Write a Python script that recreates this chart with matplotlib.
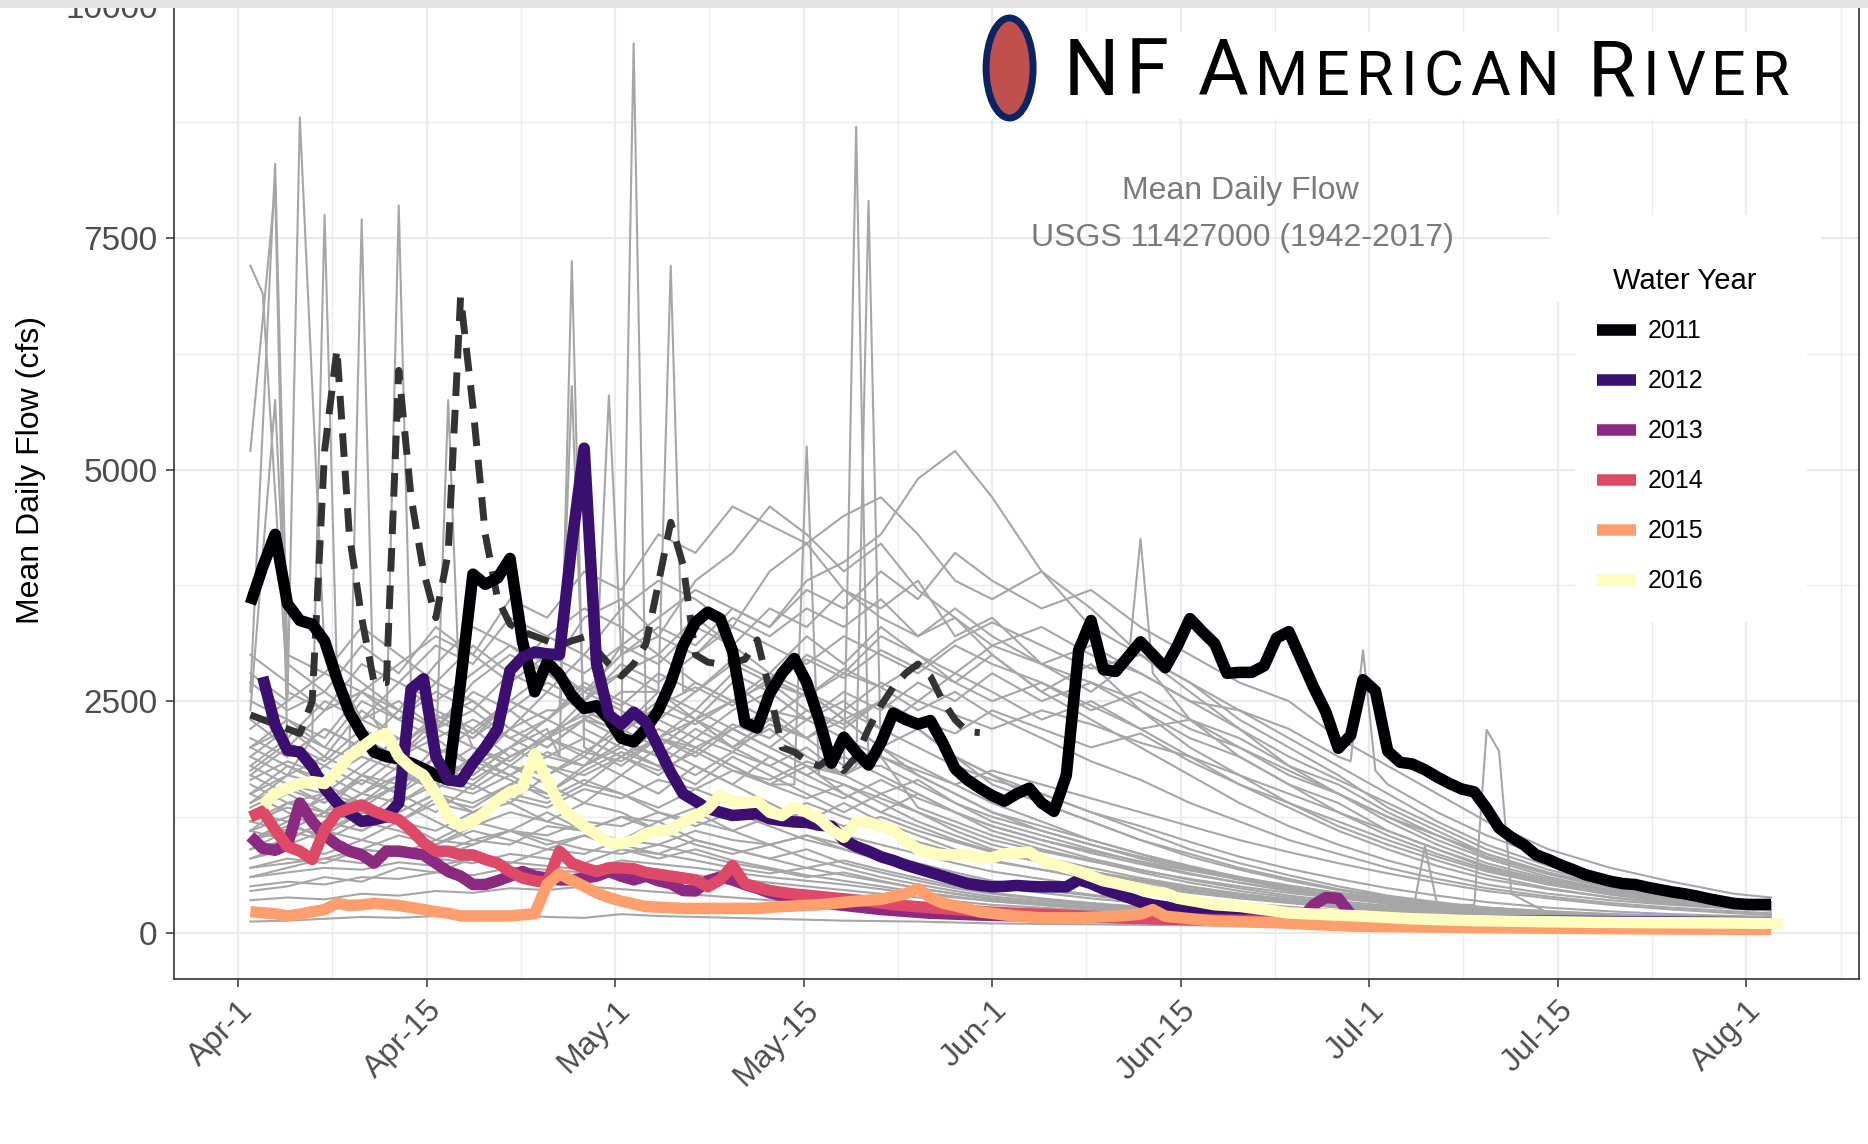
import matplotlib.pyplot as plt
import matplotlib.transforms as mtransforms
from matplotlib import font_manager
from matplotlib.patches import Ellipse, Rectangle
from matplotlib.ticker import FixedLocator

plt.rcParams['font.family'] = ['Liberation Sans', 'DejaVu Sans']

# x is days after Apr-1; date breaks are spread evenly from Apr-1 to Aug-1
TICK_DAYS = [0, 15.25, 30.5, 45.75, 61, 76.25, 91.5, 106.75, 122]
TICK_LABELS = ['Apr-1', 'Apr-15', 'May-1', 'May-15', 'Jun-1', 'Jun-15', 'Jul-1', 'Jul-15', 'Aug-1']
Y_TICKS = [0, 2500, 5000, 7500, 10000]

YEARS = ['2011', '2012', '2013', '2014', '2015', '2016']
YEAR_COLORS = ['#000004', '#3B0F70', '#8C2981', '#DE4968', '#FE9F6D', '#FCFDBF']

DAYS_2011 = list(range(1, 125))
FLOW_2011 = [3550, 3950, 4300, 3550, 3370, 3330, 3150, 2740, 2380, 2150,
             1950, 1900, 1880, 1830, 1770, 1700, 1650, 2700, 3870, 3760,
             3830, 4040, 3150, 2600, 2920, 2785, 2560, 2420, 2450, 2310,
             2100, 2060, 2200, 2400, 2700, 3100, 3350, 3460, 3390, 3040,
             2270, 2210, 2580, 2800, 2960, 2700, 2300, 1830, 2110, 1950,
             1810, 2050, 2370, 2300, 2250, 2290, 2050, 1770, 1650, 1560,
             1480, 1420, 1500, 1560, 1400, 1310, 1700, 3050, 3370, 2840,
             2820, 2980, 3140, 3000, 2860, 3100, 3390, 3250, 3120, 2800,
             2810, 2810, 2880, 3180, 3250, 2950, 2650, 2380, 1990, 2130,
             2730, 2610, 1960, 1840, 1820, 1760, 1680, 1610, 1550, 1520,
             1340, 1130, 1030, 950, 840, 790, 730, 680, 625, 590,
             555, 530, 520, 490, 465, 440, 420, 395, 365, 340,
             315, 305, 305, 305]

DAYS_2012 = list(range(2, 77)) + [78, 80, 82, 86, 90, 95, 100, 105, 110, 115, 120, 124]
FLOW_2012 = [2760, 2240, 1970, 1950, 1790, 1560, 1400, 1290, 1200, 1220,
             1250, 1400, 2630, 2740, 1900, 1650, 1630, 1830, 2000, 2200,
             2830, 2970, 3030, 3010, 3000, 4200, 5230, 2900, 2350, 2250,
             2380, 2270, 2000, 1730, 1500, 1420, 1340, 1300, 1265, 1275,
             1285, 1230, 1210, 1195, 1190, 1160, 1150, 1000, 930, 880,
             820, 780, 730, 690, 650, 610, 570, 530, 510, 495,
             500, 510, 500, 495, 495, 495, 570, 530, 470, 425,
             380, 330, 300, 280, 250,
             210, 190, 178, 165, 150, 140, 130, 125, 120, 115, 110, 105]

DAYS_2013 = list(range(1, 49)) + [50, 52, 54, 56, 58, 60, 65, 70, 75, 80, 85, 86, 87, 88, 89, 90, 91,
                                  95, 100, 110, 124]
FLOW_2013 = [1040, 910, 890, 950, 1400, 1200, 1050, 950, 880, 840,
             750, 880, 880, 860, 840, 750, 660, 610, 520, 520,
             560, 610, 660, 610, 590, 570, 570, 590, 610, 660,
             610, 570, 610, 560, 530, 455, 450, 560, 600, 570,
             520, 480, 430, 400, 370, 350, 330, 310,
             280, 250, 230, 210, 200, 190, 175, 165, 150, 140, 135, 150, 300, 380, 370, 200, 130,
             110, 100, 90, 80]

DAYS_2014 = list(range(1, 47)) + [48, 51, 53, 55, 58, 61, 65, 70, 75, 80, 90, 100, 110, 124]
FLOW_2014 = [1250, 1310, 1110, 930, 880, 790, 1110, 1290, 1340, 1380,
             1310, 1260, 1220, 1110, 970, 880, 880, 840, 840, 790,
             750, 660, 590, 560, 540, 880, 750, 700, 660, 700,
             700, 690, 650, 630, 610, 590, 570, 495, 570, 725,
             530, 490, 455, 435, 417, 405,
             378, 340, 302, 280, 250, 220, 200, 170, 150, 130, 100, 85, 70, 60]

DAYS_2015 = list(range(1, 19)) + [20, 22, 24, 25, 26, 27, 28, 29, 30, 31, 32, 33, 36, 39, 42, 44, 47,
                                  50, 52, 54, 55, 56, 57, 58, 60, 63, 65, 68, 71, 73, 74, 75, 79,
                                  84, 90, 100, 110, 124]
FLOW_2015 = [226, 215, 204, 181, 200, 226, 249, 317, 294, 300,
             317, 305, 294, 272, 250, 226, 210, 181,
             181, 181, 204, 521, 634, 566, 500, 430, 380, 340, 310, 282, 262, 262, 262, 282, 301,
             340, 360, 420, 475, 378, 320, 290, 224, 178, 160, 160, 178, 200, 249, 178, 124,
             107, 71, 55, 45, 35]

DAYS_2016 = list(range(2, 69)) + [70, 71, 73, 74, 75, 76, 79, 81, 83, 85, 88, 91, 95, 100, 105,
                                  110, 115, 120, 125]
FLOW_2016 = [1380, 1500, 1560, 1610, 1630, 1610, 1740, 1900, 2000, 2100,
             2150, 1900, 1780, 1700, 1500, 1250, 1150, 1200, 1300, 1430,
             1520, 1560, 1930, 1650, 1380, 1250, 1150, 1060, 970, 960,
             995, 1070, 1100, 1110, 1190, 1260, 1340, 1480, 1420, 1400,
             1420, 1300, 1265, 1360, 1300, 1230, 1110, 1030, 1190, 1190,
             1150, 1110, 995, 900, 860, 840, 840, 840, 800, 810,
             850, 860, 870, 780, 740, 700, 660,
             560, 533, 470, 444, 426, 373, 302, 284, 249, 213, 195, 178, 150, 130,
             120, 112, 108, 105, 100]

# current year, drawn dashed and left out of the legend
DAYS_2017 = list(range(1, 61))
FLOW_2017 = [2350, 2300, 2250, 2200, 2150, 2500, 5200, 6300, 4300, 3400,
             2700, 2700, 6070, 4700, 3900, 3400, 4100, 6860, 5680, 4300,
             3600, 3330, 3250, 3200, 3150, 3100, 3150, 3190, 3050, 2900,
             2770, 2900, 3120, 3770, 4430, 3970, 3000, 2920, 2900, 2920,
             2950, 3160, 2620, 2000, 1950, 1850, 1800, 1900, 1750, 1900,
             2200, 2450, 2650, 2800, 2900, 2770, 2500, 2300, 2170, 2160]

# the other years of record, read every few days
GRAY_DAYS = [1, 4, 7, 10, 13, 16, 19, 22, 25, 28, 31, 34, 37, 40, 43, 46, 49, 52, 55, 58,
             61, 65, 69, 73, 77, 81, 85, 89, 93, 97, 101, 106, 111, 116, 121, 124]
GRAY_FLOWS = [
    [2400, 2900, 2600, 3100, 2800, 3300, 3000, 3600, 3400, 3900, 3700, 4300, 4100, 4600, 4400, 4200, 4500, 4700, 4300, 3800,
     3600, 3900, 3300, 3000, 2700, 2300, 2000, 1700, 1350, 1100, 850, 650, 500, 400, 330, 300],
    [1800, 2100, 2500, 2300, 2700, 3100, 2900, 3400, 3200, 3000, 3500, 3800, 3600, 3300, 3900, 4200, 3700, 3500, 3800, 3200,
     3400, 2900, 2600, 2800, 2300, 1900, 1600, 1300, 1050, 850, 680, 520, 420, 340, 290, 270],
    [1500, 1700, 1600, 2000, 1900, 2300, 2100, 2500, 2800, 2600, 3000, 3300, 3100, 3500, 3300, 3700, 3500, 3900, 3600, 4100,
     3800, 3500, 3700, 3300, 3000, 2700, 2500, 2100, 1800, 1500, 1200, 900, 700, 550, 420, 380],
    [2800, 2500, 3000, 2700, 2400, 2900, 3300, 3100, 2800, 3400, 3600, 3200, 3800, 4100, 4600, 4300, 3900, 4200, 3700, 3400,
     3000, 2600, 2900, 2400, 2000, 1700, 1400, 1150, 950, 780, 620, 480, 380, 310, 260, 240],
    [2000, 2300, 2100, 2600, 2400, 2200, 2700, 3000, 2800, 2500, 3100, 3400, 3700, 3500, 3300, 3800, 4000, 4300, 4900, 5200,
     4700, 3900, 3500, 3000, 2600, 2200, 1800, 1500, 1200, 950, 750, 580, 450, 370, 310, 290],
    [2200, 2600, 2400, 2900, 2700, 2500, 2800, 3100, 2900, 2600, 2800, 3000, 2700, 2500, 2800, 2600, 2300, 2500, 2200, 1900,
     1700, 1500, 1300, 1100, 900, 750, 620, 500, 400, 330, 270, 220, 190, 170, 150, 140],
    [1600, 1900, 2200, 2000, 2400, 2200, 2600, 2400, 2100, 2500, 2800, 2600, 2300, 2700, 2400, 2100, 2300, 2000, 1800, 1600,
     1400, 1200, 1000, 850, 700, 580, 470, 380, 310, 260, 220, 190, 170, 150, 140, 130],
    [1300, 1500, 1800, 2100, 1900, 2300, 2500, 2200, 2600, 2400, 2200, 2500, 2300, 2000, 2200, 1900, 1700, 1500, 1350, 1200,
     1050, 900, 780, 650, 540, 450, 380, 320, 270, 230, 200, 180, 160, 140, 130, 120],
    [1900, 1700, 2000, 2300, 2100, 1900, 2200, 2500, 2300, 2700, 2500, 2300, 2600, 2900, 2700, 2400, 2200, 2500, 2200, 1900,
     1700, 1400, 1200, 1000, 820, 680, 560, 460, 380, 310, 260, 220, 190, 170, 150, 140],
    [1100, 1400, 1300, 1700, 1600, 2000, 1800, 2200, 2000, 2300, 2600, 2400, 2700, 2500, 2300, 2600, 2300, 2000, 2200, 1900,
     1600, 1400, 1200, 1000, 850, 700, 580, 470, 390, 320, 270, 230, 200, 180, 160, 150],
    [2500, 2300, 2000, 2200, 1900, 2100, 1800, 2000, 2300, 2100, 1900, 2200, 2000, 1800, 1600, 1800, 1500, 1300, 1150, 1000,
     880, 760, 650, 550, 460, 390, 330, 280, 240, 210, 190, 170, 160, 150, 140, 130],
    [1700, 2000, 1800, 1600, 1900, 2200, 2000, 1800, 2100, 1900, 2300, 2100, 1900, 2200, 2000, 1800, 1600, 1800, 1600, 1400,
     1250, 1100, 950, 820, 700, 600, 510, 430, 360, 300, 250, 210, 180, 160, 150, 140],
    [1400, 1600, 1500, 1800, 2100, 1900, 1700, 2000, 1800, 1600, 1900, 1700, 2000, 1800, 1600, 1400, 1600, 1400, 1200, 1050,
     900, 780, 660, 560, 470, 400, 340, 290, 250, 220, 190, 170, 150, 140, 130, 120],
    [2100, 1900, 2200, 2000, 1800, 1600, 1900, 1700, 1500, 1800, 2000, 1800, 1600, 1900, 1700, 1500, 1300, 1500, 1300, 1100,
     950, 820, 700, 590, 500, 420, 350, 300, 260, 230, 200, 180, 160, 150, 140, 130],
    [1000, 1200, 1500, 1400, 1700, 1600, 1900, 2200, 2000, 2300, 2100, 1900, 2200, 2000, 2300, 2100, 1800, 2000, 1700, 1500,
     1300, 1100, 950, 800, 680, 570, 480, 400, 340, 290, 250, 210, 190, 170, 150, 140],
    [1800, 1600, 1400, 1700, 1500, 1800, 2000, 1800, 1600, 1400, 1700, 1500, 1800, 1600, 1400, 1200, 1400, 1200, 1050, 900,
     780, 680, 580, 500, 430, 370, 320, 270, 230, 200, 180, 160, 150, 140, 130, 120],
    [1200, 1100, 1300, 1200, 1500, 1300, 1600, 1400, 1700, 1900, 1700, 2000, 1800, 1600, 1900, 1700, 1500, 1300, 1500, 1300,
     1100, 950, 800, 680, 570, 480, 400, 340, 290, 250, 220, 190, 170, 150, 140, 130],
    [1500, 1300, 1100, 1300, 1200, 1000, 1200, 1100, 1300, 1100, 1000, 1200, 1000, 900, 800, 900, 750, 650, 560, 480,
     420, 360, 310, 270, 240, 210, 190, 170, 150, 140, 130, 120, 110, 100, 100, 90],
    [1100, 1000, 1200, 1100, 1300, 1500, 1300, 1400, 1200, 1400, 1300, 1100, 1300, 1100, 950, 1050, 900, 780, 680, 590,
     500, 430, 370, 320, 280, 240, 210, 190, 170, 150, 140, 130, 120, 110, 100, 100],
    [900, 1100, 1000, 1200, 1100, 950, 1100, 1000, 900, 1050, 950, 850, 1000, 900, 800, 700, 780, 680, 590, 500,
     430, 370, 320, 280, 240, 210, 190, 170, 150, 140, 130, 120, 110, 100, 95, 90],
    [1300, 1200, 1000, 900, 1050, 950, 1150, 1300, 1200, 1100, 1250, 1100, 950, 850, 950, 800, 700, 600, 520, 450,
     390, 340, 300, 260, 230, 200, 180, 160, 150, 140, 130, 120, 110, 100, 95, 90],
    [800, 900, 850, 1000, 900, 800, 950, 1100, 1000, 900, 850, 950, 850, 750, 680, 600, 650, 560, 480, 420,
     360, 310, 270, 240, 210, 190, 170, 150, 140, 130, 120, 110, 100, 95, 90, 85],
    [1600, 1400, 1500, 1300, 1200, 1400, 1300, 1500, 1400, 1600, 1500, 1300, 1150, 1300, 1150, 1000, 900, 800, 700, 620,
     540, 460, 400, 340, 290, 250, 220, 190, 170, 150, 140, 130, 120, 110, 100, 100],
    [500, 550, 520, 600, 580, 650, 620, 700, 680, 650, 720, 680, 620, 580, 540, 500, 460, 420, 380, 340,
     300, 270, 240, 210, 190, 170, 150, 140, 130, 120, 110, 100, 95, 90, 85, 80],
    [350, 380, 360, 420, 400, 450, 430, 480, 460, 500, 470, 440, 410, 380, 350, 320, 300, 270, 250, 230,
     210, 190, 170, 150, 140, 130, 120, 110, 100, 95, 90, 85, 80, 75, 70, 70],
    [120, 130, 150, 170, 160, 180, 200, 190, 170, 160, 200, 180, 170, 160, 150, 140, 130, 125, 120, 110,
     100, 95, 90, 85, 80, 75, 70, 65, 60, 55, 55, 50, 50, 45, 45, 40],
    [700, 750, 800, 900, 850, 800, 750, 850, 800, 750, 900, 850, 780, 700, 640, 700, 620, 550, 480, 420,
     370, 320, 280, 250, 220, 190, 170, 150, 140, 130, 120, 110, 100, 95, 90, 85],
    [1000, 1100, 1300, 1200, 1400, 1600, 1500, 1700, 1900, 1800, 2100, 2000, 2300, 2500, 2300, 2600, 2400, 2700, 2500, 2800,
     2600, 2300, 2500, 2200, 1900, 1600, 1350, 1100, 900, 720, 580, 470, 380, 320, 270, 250],
    [2600, 3000, 2800, 3300, 3000, 2700, 3100, 2800, 3200, 3500, 3300, 3000, 3400, 3100, 2800, 3200, 2900, 3300, 3000, 2700,
     3000, 2600, 2300, 2000, 1700, 1400, 1150, 950, 780, 640, 520, 420, 350, 300, 260, 240],
    [2000, 2200, 1900, 2400, 2100, 2400, 2200, 1900, 2100, 2400, 2200, 2000, 2300, 2100, 1900, 1700, 1900, 1700, 1500, 1300,
     1150, 1000, 860, 740, 630, 540, 460, 390, 330, 280, 240, 200, 180, 160, 150, 140],
    [1500, 1800, 1600, 1400, 1600, 1900, 1700, 2000, 2200, 2000, 1800, 2100, 2400, 2200, 2000, 2300, 2100, 1900, 1700, 1500,
     1300, 1150, 1000, 850, 720, 600, 500, 420, 350, 300, 250, 210, 180, 160, 150, 140],
    [1200, 1400, 1300, 1500, 1800, 1700, 1600, 1900, 2100, 2300, 2200, 2600, 2400, 2800, 2600, 3000, 2800, 3200, 3000, 2800,
     3100, 3300, 3000, 2800, 2500, 2400, 2200, 1900, 1600, 1300, 1050, 800, 600, 470, 370, 330],
    [1700, 1500, 1300, 1200, 1400, 1200, 1000, 1100, 950, 1050, 900, 800, 900, 780, 700, 620, 560, 500, 440, 390,
     340, 300, 260, 230, 200, 180, 160, 150, 140, 130, 120, 110, 100, 95, 90, 85],
    [2300, 2000, 2400, 2600, 2300, 2700, 2500, 2200, 2400, 2200, 2000, 2300, 2100, 2400, 2600, 2300, 2500, 2200, 2000, 1800,
     1650, 1500, 1300, 1150, 980, 820, 690, 580, 480, 400, 330, 270, 230, 200, 180, 170],
    [600, 650, 700, 680, 760, 720, 800, 760, 720, 680, 780, 740, 700, 650, 600, 560, 520, 470, 420, 380,
     340, 300, 260, 230, 200, 180, 160, 145, 135, 125, 115, 105, 100, 95, 90, 85],
    [1900, 2200, 2000, 2500, 2300, 2600, 2400, 2800, 2600, 3000, 2800, 3200, 3000, 3400, 3200, 3500, 3300, 3600, 3200, 3400,
     3100, 2900, 2700, 2500, 2200, 2000, 1700, 1500, 1250, 1050, 850, 640, 500, 400, 330, 300],
    [1400, 1700, 1900, 1700, 2000, 2300, 2100, 2400, 2700, 2500, 2900, 2700, 3000, 3300, 3100, 2900, 3200, 3000, 2800, 3100,
     2900, 2700, 2400, 2600, 2300, 2100, 1800, 1600, 1300, 1050, 820, 630, 480, 380, 320, 290],
    [900, 1000, 1200, 1100, 1300, 1500, 1400, 1600, 1800, 1700, 1900, 2100, 2000, 2200, 2400, 2300, 2600, 2400, 2700, 2500,
     2800, 2500, 2700, 2400, 2100, 1900, 1600, 1400, 1100, 900, 700, 540, 420, 340, 290, 260],
    [1200, 1350, 1250, 1500, 1400, 1650, 1550, 1800, 1700, 1950, 1850, 2100, 1950, 2250, 2100, 2400, 2250, 2500, 2300, 2150,
     2400, 2200, 2000, 2150, 1850, 1600, 1400, 1200, 1000, 820, 660, 520, 410, 330, 280, 250],
    [2700, 2400, 2600, 2300, 2500, 2200, 2400, 2100, 2300, 2600, 2400, 2100, 2300, 2000, 1800, 2000, 1700, 1500, 1650, 1400,
     1200, 1050, 900, 760, 640, 540, 450, 380, 320, 270, 230, 200, 180, 160, 150, 140],
    [800, 950, 1100, 1000, 1200, 1100, 1300, 1450, 1350, 1550, 1450, 1650, 1550, 1750, 1650, 1850, 1700, 1900, 1750, 1600,
     1750, 1600, 1450, 1300, 1150, 1000, 870, 750, 640, 540, 450, 370, 300, 250, 210, 190],
    [1650, 1850, 1700, 1500, 1700, 1550, 1800, 1650, 1450, 1650, 1500, 1350, 1550, 1400, 1250, 1400, 1250, 1100, 980, 870,
     770, 680, 600, 520, 450, 390, 340, 290, 250, 220, 190, 170, 150, 140, 130, 120],
    [1100, 1250, 1450, 1350, 1600, 1800, 1650, 1900, 2100, 1950, 2200, 2400, 2250, 2500, 2700, 2550, 2800, 2650, 2900, 2700,
     2500, 2700, 2450, 2200, 2300, 2000, 1750, 1500, 1250, 1000, 800, 600, 460, 370, 310, 280],
    [450, 500, 600, 550, 700, 650, 800, 750, 900, 850, 1000, 950, 1100, 1000, 950, 1050, 950, 850, 750, 650,
     560, 480, 410, 350, 300, 260, 230, 200, 180, 160, 150, 140, 130, 120, 110, 105],
    [2000, 1800, 1650, 1900, 1750, 1600, 1850, 1700, 1950, 1800, 2050, 1900, 1700, 1950, 1800, 1600, 1450, 1650, 1450, 1300,
     1150, 1000, 880, 770, 670, 580, 500, 430, 370, 320, 270, 230, 200, 180, 160, 150],
    [1350, 1550, 1400, 1650, 1500, 1750, 2000, 1850, 2150, 2350, 2150, 2450, 2650, 2450, 2750, 2950, 2750, 3050, 2850, 3150,
     3350, 3100, 2850, 3000, 2700, 2400, 2100, 1800, 1500, 1200, 950, 720, 550, 430, 350, 320],
    [600, 700, 800, 750, 900, 850, 1000, 950, 1150, 1100, 1250, 1200, 1350, 1300, 1200, 1300, 1150, 1250, 1100, 980,
     870, 760, 660, 570, 490, 420, 360, 310, 270, 230, 200, 180, 160, 150, 140, 130],
    [3000, 2700, 2400, 2600, 2300, 2100, 2300, 2100, 1900, 2100, 1900, 1750, 1950, 1750, 1600, 1450, 1600, 1450, 1300, 1150,
     1000, 880, 770, 670, 580, 500, 430, 370, 320, 280, 240, 210, 190, 170, 160, 150],
    [1000, 1150, 1050, 1300, 1200, 1450, 1350, 1600, 1500, 1750, 1950, 1800, 2100, 1950, 2250, 2100, 2400, 2200, 2500, 2350,
     2200, 2400, 2250, 2050, 1900, 1700, 1500, 1300, 1100, 900, 720, 560, 440, 360, 300, 270],
    [700, 800, 750, 900, 850, 1000, 950, 1100, 1050, 1200, 1150, 1300, 1200, 1100, 1250, 1150, 1050, 950, 850, 750,
     660, 580, 500, 430, 370, 320, 280, 240, 210, 190, 170, 150, 140, 130, 120, 110],
    [1750, 2050, 1850, 2200, 2000, 2350, 2150, 2500, 2300, 2650, 2450, 2800, 2600, 2950, 2750, 2550, 2850, 2650, 2400, 2600,
     2350, 2100, 1850, 1650, 1400, 1200, 1000, 850, 700, 580, 480, 390, 320, 270, 230, 210],
    [2200, 2500, 2800, 2600, 2900, 3200, 3000, 2700, 3000, 2800, 3100, 2900, 3300, 3100, 3500, 3300, 3700, 3400, 3200, 3500,
     3200, 2900, 3100, 2800, 2500, 2200, 1900, 1650, 1400, 1150, 900, 680, 520, 410, 340, 310],
]
# single-day storm peaks: (row in GRAY_FLOWS, day, flow)
GRAY_PEAKS = [
    (5, 1, 7200), (5, 2, 6900), (6, 1, 5200), (6, 3, 8050), (28, 3, 8300), (0, 3, 5750),
    (3, 5, 8800), (8, 6, 2100), (8, 7, 7750), (8, 8, 2800), (10, 9, 1900), (10, 10, 7700),
    (10, 11, 2300), (29, 12, 2200), (29, 13, 7850), (29, 14, 2600), (15, 16, 1900),
    (15, 17, 5750), (15, 18, 2300), (30, 26, 1900), (30, 27, 7250), (30, 28, 2000),
    (33, 26, 2400), (33, 27, 5900), (33, 28, 2200), (35, 29, 2900), (35, 30, 5800),
    (35, 31, 3000), (27, 31, 2200), (27, 32, 9600), (27, 33, 2300), (9, 34, 2600),
    (9, 35, 7200), (9, 36, 2600), (12, 45, 1600), (12, 46, 5250), (12, 47, 1700),
    (11, 49, 1700), (11, 50, 8700), (11, 51, 1800), (7, 50, 1800), (7, 51, 7900),
    (7, 52, 1900), (1, 72, 2900), (1, 73, 4250), (1, 74, 2800), (31, 90, 1850),
    (31, 91, 3050), (31, 92, 1750), (11, 100, 300), (11, 101, 2190), (11, 102, 1960),
    (11, 103, 420), (23, 95, 200), (23, 96, 930), (23, 97, 300),
]

W, H = 1868, 1144
fig = plt.figure(figsize=(W / 100, H / 100), dpi=100)
# panel runs past the top edge of the image, as in the original layout
ax = fig.add_axes([174 / W, 1 - 979 / H, (1859 - 174) / W, (979 + 40) / H])
ax.set_xlim(-5.18, 131.12)
ax.set_ylim(-500, 10500)

for i, flows in enumerate(GRAY_FLOWS):
    pts = dict(zip(GRAY_DAYS, flows))
    for row, day, flow in GRAY_PEAKS:
        if row == i:
            pts[day] = flow
    days = sorted(pts)
    ax.plot(days, [pts[d] for d in days], color='#a6a6a6', lw=1.5, zorder=2)

ax.plot(DAYS_2017, FLOW_2017, color='#333333', lw=5, dashes=(3.4, 2.0), zorder=3)

series = [(DAYS_2011, FLOW_2011), (DAYS_2012, FLOW_2012), (DAYS_2013, FLOW_2013),
          (DAYS_2014, FLOW_2014), (DAYS_2015, FLOW_2015), (DAYS_2016, FLOW_2016)]
handles = []
for (days, flows), year, color in zip(series, YEARS, YEAR_COLORS):
    line, = ax.plot(days, flows, color=color, lw=8.3, label=year, zorder=4,
                    solid_joinstyle='round', solid_capstyle='butt')
    handles.append(line)

# axes styling (grey panel border, light grid)
ax.set_axisbelow(True)
ax.xaxis.set_major_locator(FixedLocator(TICK_DAYS))
ax.xaxis.set_minor_locator(FixedLocator([d + 7.625 for d in TICK_DAYS]))
ax.yaxis.set_major_locator(FixedLocator(Y_TICKS))
ax.yaxis.set_minor_locator(FixedLocator([1250, 3750, 6250, 8750]))
ax.grid(which='major', color='#ebebeb', lw=1.6)
ax.grid(which='minor', color='#ebebeb', lw=1.0)
ax.set_xticklabels(TICK_LABELS, rotation=45, ha='right', rotation_mode='anchor')
ax.set_yticklabels([str(v) for v in Y_TICKS])
ax.tick_params(which='major', length=5.8, width=1.1, color='#333333', labelcolor='#4d4d4d')
ax.tick_params(which='minor', length=0)
ax.tick_params(axis='y', labelsize=24, pad=6)
ax.tick_params(axis='x', labelsize=23, pad=6)
for sp in ax.spines.values():
    sp.set_color('#333333')
    sp.set_linewidth(1.2)
ax.set_ylabel('Mean Daily Flow (cfs)', fontsize=23, color='black')
ax.yaxis.set_label_coords((31 - 174) / (1859 - 174), 0.5)
ax.yaxis.label.set_va('center')

# white backing for the title block and the legend
for x0, y0, x1, y1 in [(975, 32, 1836, 119), (1550, 215, 1821, 302), (1575, 302, 1807, 622)]:
    ax.add_patch(Rectangle((x0 / W, 1 - y1 / H), (x1 - x0) / W, (y1 - y0) / H,
                           transform=fig.transFigure, facecolor='white', edgecolor='none', zorder=1.5))

leg = ax.legend(handles=handles, loc='upper left', bbox_to_anchor=(1597 / W, 1 - 319.5 / H),
                bbox_transform=fig.transFigure, frameon=False, fontsize=18,
                handlelength=1.55, handletextpad=0.48, labelspacing=1.04,
                borderpad=0, borderaxespad=0)
leg.set_zorder(6)
for ln in leg.get_lines():
    ln.set_linewidth(8.3)

px = mtransforms.IdentityTransform()
fig.text(1685, H - 289, 'Water Year', fontsize=21, ha='center', color='black', transform=px)
fig.text(1240, H - 199, 'Mean Daily Flow', fontsize=23, ha='center', color='#7a7a7a', transform=px)
fig.text(1242, H - 246, 'USGS 11427000 (1942-2017)', fontsize=23, ha='center', color='#7a7a7a',
         transform=px)

# small-caps station title with oval marker
names = {f.name for f in font_manager.fontManager.ttflist}
title_font = 'Liberation Sans Narrow' if 'Liberation Sans Narrow' in names else 'Roboto'
title_chars = [('N', 56), ('F', 56), (' ', 0), ('A', 56), ('M', 44), ('E', 44), ('R', 44),
               ('I', 44), ('C', 44), ('A', 44), ('N', 44), (' ', 0), ('R', 56), ('I', 44),
               ('V', 44), ('E', 44), ('R', 44)]
renderer = fig.canvas.get_renderer()
word_gap = 22
pieces = []
for ch, size in title_chars:
    if ch == ' ':
        pieces.append((None, word_gap))
        continue
    t = fig.text(0, H - 95, ch, fontsize=size, family=title_font, color='black', transform=px)
    pieces.append((t, t.get_window_extent(renderer).width))
n_glyphs = sum(1 for t, _ in pieces if t is not None)
natural = sum(w for _, w in pieces)
tracking = (1790 - 1064 - natural) / (n_glyphs - 1)
x = 1064
for t, w in pieces:
    if t is None:
        x += w
        continue
    t.set_x(x)
    x += w + tracking

fig.add_artist(Ellipse((1009.6 / W, 1 - 68 / H), 47 / W, 100 / H, transform=fig.transFigure,
                       facecolor='#c0504d', edgecolor='#0b2363', lw=5, zorder=5))
fig.add_artist(Rectangle((0, 1 - 8 / H), 1, 8 / H, transform=fig.transFigure,
                         facecolor='#e3e3e3', edgecolor='none', zorder=10))

fig.savefig('out.png', dpi=100)
